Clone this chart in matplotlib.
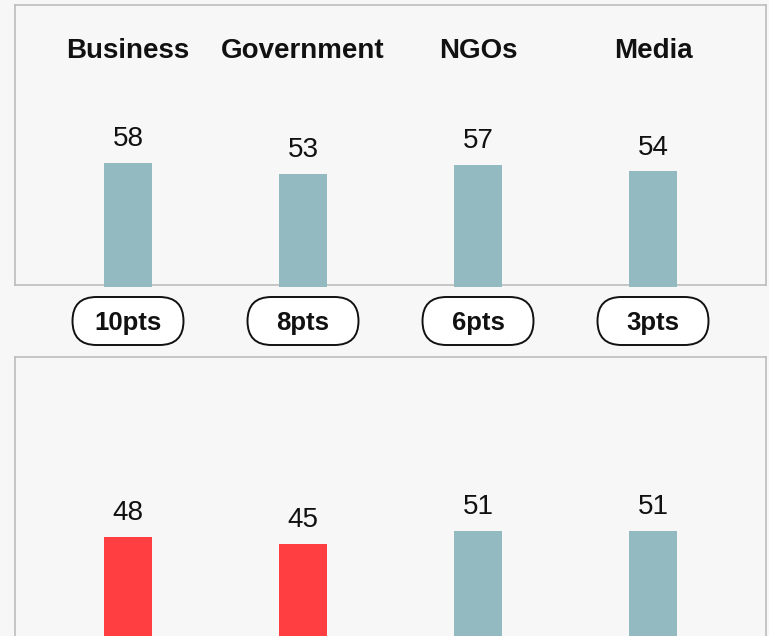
import matplotlib
matplotlib.use("Agg")
import matplotlib.pyplot as plt
from matplotlib.patches import FancyBboxPatch

categories = ["Business", "Government", "NGOs", "Media"]
top_values = [58, 53, 57, 54]
bottom_values = [48, 45, 51, 51]
bottom_colors_flag = [True, True, False, False]  # True -> highlighted (red)
changes = ["10pts", "8pts", "6pts", "3pts"]

TEAL = "#93bac1"
RED = "#ff3e41"
BG = "#f7f7f7"
EDGE = "#bdbdbd"
TXT = "#111111"

plt.rcParams['font.family'] = ['Liberation Sans', 'DejaVu Sans']

W, H = 769, 636
fig = plt.figure(figsize=(W / 100, H / 100), dpi=100, facecolor=BG)

px_per_unit = 2.14
x_left = -113 / 175
x_right = (751 - 113) / 175
bar_w = 48 / 175

# top panel: y from 5 to 285 px
ax1 = fig.add_axes([15 / W, 1 - 285 / H, 751 / W, 280 / H], facecolor=BG)
y0 = 2 / px_per_unit
ax1.set_ylim(y0, y0 + 280 / px_per_unit)
ax1.set_xlim(x_left, x_right)

# bottom panel: y from 357 to 636 px
ax2 = fig.add_axes([15 / W, 0, 751 / W, (636 - 357) / H], facecolor=BG)
y0b = 4 / px_per_unit
ax2.set_ylim(y0b, y0b + 279 / px_per_unit)
ax2.set_xlim(x_left, x_right)

for ax in (ax1, ax2):
    ax.set_xticks([])
    ax.set_yticks([])
    for s in ax.spines.values():
        s.set_color(EDGE)
        s.set_linewidth(1.2)
ax2.spines['bottom'].set_visible(False)

xs = list(range(len(categories)))
ax1.bar(xs, top_values, width=bar_w, color=TEAL, clip_on=False, zorder=3)
cols = [RED if f else TEAL for f in bottom_colors_flag]
ax2.bar(xs, bottom_values, width=bar_w, color=cols, zorder=3)

for ax, vals in ((ax1, top_values), (ax2, bottom_values)):
    for x, v in zip(xs, vals):
        ax.annotate(str(v), (x, v), xytext=(0, 7.8), textcoords="offset points",
                    ha="center", va="bottom", fontsize=20, color=TXT)

for x, c in zip(xs, categories):
    ax1.text(x, 1 - 46 / 280, c, transform=ax1.get_xaxis_transform(),
             ha="center", va="center", fontsize=20, fontweight="bold", color=TXT)

# pills between panels
fig.canvas.draw()
pill_w, pill_h = 1.11, 0.48
pill_yc = (H - 321) / 100
for x, t in zip(xs, changes):
    dx, _ = ax1.transData.transform((x, 0))
    xc = dx / fig.dpi
    p = FancyBboxPatch((xc - pill_w / 2, pill_yc - pill_h / 2),
                       pill_w, pill_h,
                       boxstyle=f"round,pad=0,rounding_size={pill_h / 2}",
                       transform=fig.dpi_scale_trans, facecolor="white",
                       edgecolor="#111111", linewidth=1.4)
    fig.add_artist(p)
    fig.text(xc, pill_yc - 0.02, t, transform=fig.dpi_scale_trans, ha="center", va="center",
             fontsize=18.5, fontweight="bold", color=TXT)

fig.savefig("out.png", dpi=100, facecolor=BG)
